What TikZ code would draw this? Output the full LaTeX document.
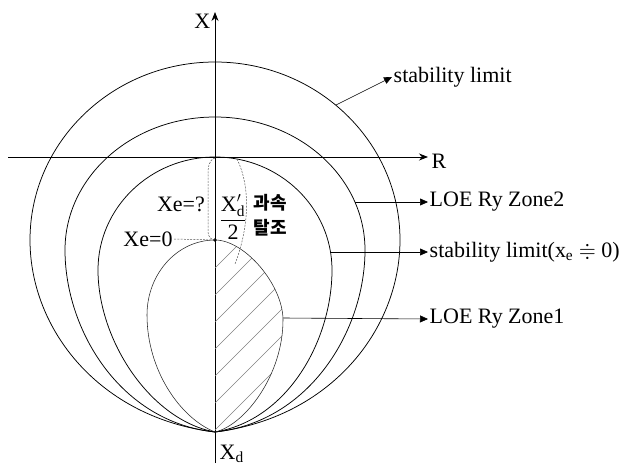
\documentclass[tikz,border=0pt]{standalone}
\usepackage{amsmath}
\usepackage{amssymb}
\usepackage{fontspec}
\setmainfont{Liberation Serif}
\newfontfamily\kofont{Noto Sans CJK KR}
\usetikzlibrary{arrows.meta}

\begin{document}
\begin{tikzpicture}[
  x=1pt, y=-1pt,
  curve/.style={line width=0.75pt, black},
  inner/.style={line width=0.55pt, black!85},
  axis/.style={line width=0.8pt, -{Stealth[length=9pt,width=7pt]}},
  lead/.style={line width=0.6pt, -{Triangle[length=8pt,width=7pt]}},
  lbl/.style={font=\fontsize{22}{24}\selectfont, inner sep=1.5pt},
  kor/.style={font=\kofont\bfseries\fontsize{18}{20}\selectfont, inner sep=0pt},
  hatch/.style={line width=0.4pt, gray},
  guide/.style={line width=0.5pt, gray!70!black, dash pattern=on 2pt off 1.2pt},
]
\useasboundingbox (0,0) rectangle (627,466);

% --- axes ---
\coordinate (O)   at (215,432);
\coordinate (top) at (215,12);
\coordinate (bot) at (215,463);
\coordinate (rl)  at (8,157);
\coordinate (rr)  at (428,157);
\draw[axis] (bot) -- (top);
\draw[axis] (rl) -- (rr);
\node[lbl, anchor=east] (X) at (212,21) {X};
\node[lbl, anchor=west] (R) at (430,161) {R};
\node[lbl, anchor=west] (Xd) at (218,454) {X\textsubscript{d}};

% --- curves through the cusp ---
\draw[curve] (O) .. controls (100,418) and (30,330) .. (30,240)
  .. controls (30,141.7) and (112.8,62) .. (215,62)
  .. controls (317.2,62) and (400,141.7) .. (400,240)
  .. controls (400,330) and (330,418) .. (O);
\draw[curve] (O) .. controls (120,422) and (65,330) .. (65,250)
  .. controls (65,176.5) and (132.2,117) .. (215,117)
  .. controls (297.8,117) and (365,176.5) .. (365,250)
  .. controls (365,330) and (310,422) .. (O);
\draw[curve] (O) .. controls (150,420) and (98,340) .. (98,270)
  .. controls (98,207.6) and (150.4,157) .. (215,157)
  .. controls (279.6,157) and (332,207.6) .. (332,270)
  .. controls (332,340) and (288,420) .. (O);

% --- zone 1 with hatching ---
\begin{scope}
  \clip (215,240) .. controls (245,240) and (283,285) .. (283,320)
    .. controls (283,375) and (245,425) .. (O) -- cycle;
  \foreach \k in {0,...,11}
    \draw[hatch] (215,430-27*\k) -- ++(120,-120);
\end{scope}
\draw[inner] (O) .. controls (180,418) and (147,370) .. (147,315)
  .. controls (147,273.6) and (177.4,240) .. (215,240)
  .. controls (245,240) and (283,285) .. (283,320)
  .. controls (283,375) and (245,425) .. (O);

% --- X'd/2 region ---
\coordinate (e0) at (215,240);
\fill (e0) circle (1.8pt);
\draw[guide] (215,158) to[out=200,in=90] (208,175) -- (208,232) to[out=-90,in=180] (e0);
\draw[guide] (237,159) .. controls (250,185) and (250,225) .. (235,264);
\node[lbl] (xeq) at (181,204) {Xe=?};
\node[lbl] (xe0) at (148,239) {Xe=0};
\draw[guide] (xe0.east) -- (e0);
\node[lbl, inner sep=0pt] (frac) at (233,217) {$\dfrac{\text{X}'_{\text{d}}}{\text{2}}$};
\node[kor] (k1) at (270,203) {과속};
\node[kor] (k2) at (270,228) {탈조};

% --- labels ---
\coordinate (c1) at (336,105);
\coordinate (c2) at (355,202);
\coordinate (c3) at (330,252);
\coordinate (c4) at (283,318);
\node[lbl, anchor=west] (sl)  at (392,77)  {stability limit};
\node[lbl, anchor=west] (z2)  at (428,202) {LOE Ry Zone2};
\node[lbl, anchor=west] (sl0) at (428,252) {stability limit(x\textsubscript{e} $\doteqdot$ 0)};
\node[lbl, anchor=west] (z1)  at (428,319) {LOE Ry Zone1};
\foreach \p/\q in {c1/sl,c2/z2,c3/sl0,c4/z1} \draw[lead] (\p) -- (\q.west);
\end{tikzpicture}
\end{document}
